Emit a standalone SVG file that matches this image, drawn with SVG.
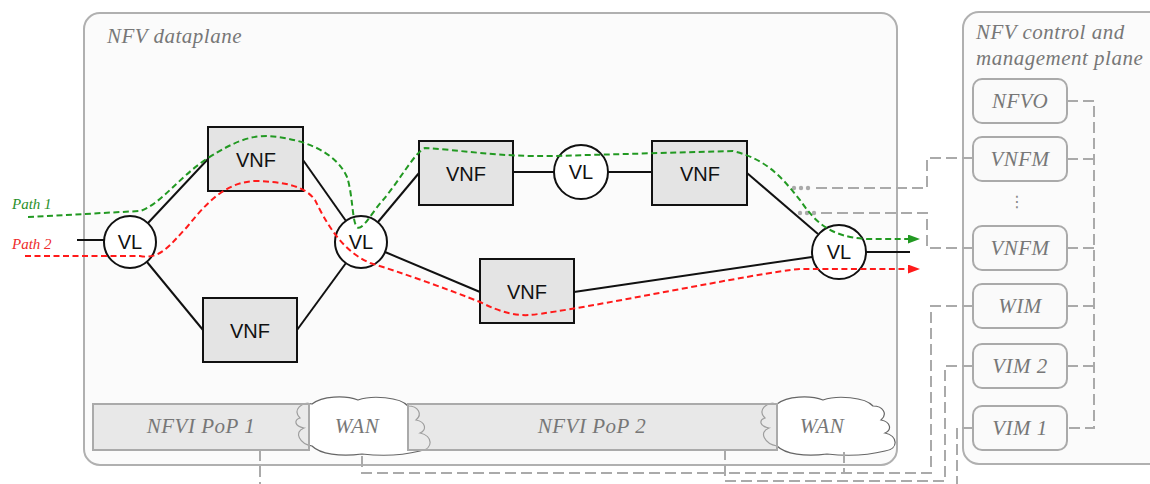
<svg xmlns="http://www.w3.org/2000/svg" width="1150" height="484" viewBox="0 0 1150 484">
<style>
.plane{fill:#fbfbfb;stroke:#b0b0b0;stroke-width:2}
.lbl{font-family:"Liberation Serif",serif;font-style:italic;font-size:21px;fill:#777;letter-spacing:0.5px}
.mid{text-anchor:middle}
.cbox{fill:#fafafa;stroke:#aaa;stroke-width:2}
.pop{fill:#d6d6d6;fill-opacity:0.5;stroke:#aaa;stroke-width:2}
.cloud{fill:#fff;stroke:#666;stroke-width:1.2}
.vnf{fill:#e4e4e4;stroke:#111;stroke-width:2}
.vl{fill:#fff;stroke:#111;stroke-width:2}
.nt{font-family:"Liberation Sans",Arial,sans-serif;font-size:20px;fill:#111;text-anchor:middle}
.edge{stroke:#111;stroke-width:2;fill:none}
.gd{stroke:#aaa;stroke-width:2;fill:none;stroke-dasharray:11 5}
.dot{fill:#aaa}
.p1{stroke:#229922;stroke-width:2;fill:none;stroke-dasharray:6 3.5}
.p2{stroke:#ff1a1a;stroke-width:2;fill:none;stroke-dasharray:6 3.5}
</style>
<defs>
<marker id="ag" markerUnits="userSpaceOnUse" markerWidth="13" markerHeight="10" refX="0" refY="4.5" orient="auto"><path d="M0,0 L12,4.5 L0,9 z" fill="#229922"/></marker>
<marker id="ar" markerUnits="userSpaceOnUse" markerWidth="13" markerHeight="10" refX="0" refY="4.5" orient="auto"><path d="M0,0 L12,4.5 L0,9 z" fill="#ff1a1a"/></marker>
<path id="cloudShape" d="M300,418 C292,410 302,401 312,404 C322,396 345,395 358,400 C372,395 400,397 408,406 C418,406 423,414 416,420 C426,422 427,430 420,433 C433,436 434,449 420,451 C400,456 380,456 362,454 C340,457 320,454 312,446 C300,444 293,432 304,428 C294,426 294,420 300,418 Z"/>
</defs>

<g id="dataplane">
<rect class="plane" x="84" y="13" width="813" height="452" rx="16"/>
<text class="lbl" x="107" y="43">NFV dataplane</text>
</g>
<g id="control-plane">
<rect class="plane" x="963" y="12" width="210" height="452" rx="16"/>
<text class="lbl" x="976" y="39">NFV control and</text>
<text class="lbl" x="976" y="65">management plane</text>
</g>

<g id="wan1"><use href="#cloudShape" class="cloud"/></g>
<g id="wan2"><use href="#cloudShape" class="cloud" transform="translate(465,0)"/></g>
<g id="pop1">
<rect class="pop" x="93" y="404" width="216" height="46"/>
<text class="lbl mid" x="201" y="433">NFVI PoP 1</text>
</g>
<g id="pop2">
<rect class="pop" x="408" y="404" width="369" height="46"/>
<text class="lbl mid" x="592" y="433">NFVI PoP 2</text>
</g>
<text class="lbl mid" x="357" y="433">WAN</text>
<text class="lbl mid" x="822" y="433">WAN</text>

<g id="nfvo"><rect class="cbox" x="973" y="79" width="94" height="44" rx="9"/><text class="lbl mid" x="1020" y="108">NFVO</text></g>
<g id="vnfm1"><rect class="cbox" x="973" y="137" width="94" height="44" rx="9"/><text class="lbl mid" x="1020" y="166">VNFM</text></g>
<text x="1017" y="207" font-family="DejaVu Sans,sans-serif" font-size="16" fill="#888" text-anchor="middle">⋮</text>
<g id="vnfm2"><rect class="cbox" x="973" y="226" width="94" height="44" rx="9"/><text class="lbl mid" x="1020" y="255">VNFM</text></g>
<g id="wim"><rect class="cbox" x="973" y="284" width="94" height="44" rx="9"/><text class="lbl mid" x="1020" y="313">WIM</text></g>
<g id="vim2"><rect class="cbox" x="973" y="344" width="94" height="44" rx="9"/><text class="lbl mid" x="1020" y="373">VIM 2</text></g>
<g id="vim1"><rect class="cbox" x="973" y="406" width="94" height="44" rx="9"/><text class="lbl mid" x="1020" y="435">VIM 1</text></g>

<g id="connectors">
<line class="edge" x1="77" y1="240" x2="104" y2="240"/>
<line class="edge" x1="148" y1="223" x2="208" y2="159"/>
<line class="edge" x1="147" y1="262" x2="203" y2="330"/>
<line class="edge" x1="303" y1="160" x2="346" y2="221"/>
<line class="edge" x1="297" y1="330" x2="346" y2="263"/>
<line class="edge" x1="378" y1="222" x2="419" y2="173"/>
<line class="edge" x1="385" y1="252" x2="480" y2="292"/>
<line class="edge" x1="513" y1="172" x2="554" y2="172"/>
<line class="edge" x1="608" y1="172" x2="652" y2="172"/>
<line class="edge" x1="747" y1="173" x2="818" y2="234"/>
<line class="edge" x1="574" y1="292" x2="812" y2="257"/>
<line class="edge" x1="866" y1="252" x2="910" y2="252"/>

<path class="gd" d="M973,158 H927 V188 H814"/>
<circle class="dot" cx="794" cy="188" r="2.2"/><circle class="dot" cx="801" cy="188" r="2.2"/><circle class="dot" cx="808" cy="188" r="2.2"/>
<path class="gd" d="M973,248 H927 V213 H820"/>
<circle class="dot" cx="800" cy="213" r="2.2"/><circle class="dot" cx="807" cy="213" r="2.2"/><circle class="dot" cx="814" cy="213" r="2.2"/>
<path class="gd" d="M973,306 H931 V473 H362 V454"/>
<path class="gd" d="M844,452 V473"/>
<path class="gd" d="M973,366 H945 V481 H725 V450"/>
<path class="gd" d="M973,428 H957 V484"/>
<path class="gd" d="M260,450 V484"/>
<path class="gd" d="M1067,101 H1094 V428 H1067"/>
<path class="gd" d="M1067,159 H1094 M1067,248 H1094 M1067,306 H1094 M1067,366 H1094"/>
</g>

<g id="vnf1"><rect class="vnf" x="208" y="127" width="95" height="64"/><text class="nt" x="256" y="167">VNF</text></g>
<g id="vnf2"><rect class="vnf" x="203" y="298" width="94" height="64"/><text class="nt" x="250" y="338">VNF</text></g>
<g id="vnf3"><rect class="vnf" x="419" y="141" width="94" height="64"/><text class="nt" x="466" y="181">VNF</text></g>
<g id="vnf4"><rect class="vnf" x="652" y="141" width="95" height="64"/><text class="nt" x="700" y="181">VNF</text></g>
<g id="vnf5"><rect class="vnf" x="480" y="259" width="94" height="64"/><text class="nt" x="527" y="299">VNF</text></g>
<g id="vl1"><circle class="vl" cx="130" cy="242" r="26"/><text class="nt" x="130" y="249">VL</text></g>
<g id="vl2"><circle class="vl" cx="361" cy="242" r="26"/><text class="nt" x="361" y="249">VL</text></g>
<g id="vl3"><circle class="vl" cx="581" cy="172" r="27"/><text class="nt" x="581" y="179">VL</text></g>
<g id="vl4"><circle class="vl" cx="839" cy="252" r="27"/><text class="nt" x="839" y="259">VL</text></g>

<g id="paths">
<path class="p1" marker-end="url(#ag)" d="M28,217 L140,211 C160,205 180,176 208,158 C235,141 250,136 267,136 C300,138 335,150 347,177 C353,195 352,222 357,227 C362,232 372,212 383,200 C400,180 415,152 425,148 C460,150 500,157 553,156 L733,151 C770,160 785,182 800,200 C815,222 830,237 867,239 L908,239"/>
<path class="p2" marker-end="url(#ar)" d="M25,256 L140,256 C160,260 170,245 187,227 C205,205 225,181 257,181 C285,182 305,186 315,200 C325,220 340,250 370,263 C400,272 450,290 480,302 C500,312 515,316 530,315 C580,310 760,272 800,269 L908,269"/>
<text x="12" y="209" font-family="Liberation Serif,serif" font-style="italic" font-size="15" fill="#2a8f2a">Path 1</text>
<text x="12" y="249" font-family="Liberation Serif,serif" font-style="italic" font-size="15" fill="#ee2a2a">Path 2</text>
</g>
</svg>
